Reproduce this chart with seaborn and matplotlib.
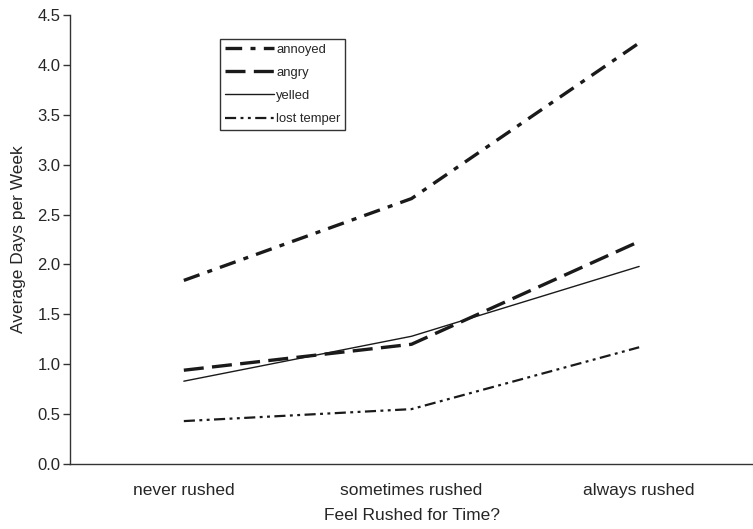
import matplotlib
matplotlib.use('Agg')
import matplotlib.pyplot as plt
import pandas as pd
import seaborn as sns

categories = ['never rushed', 'sometimes rushed', 'always rushed']
annoyed = [1.84, 2.66, 4.22]
angry = [0.94, 1.20, 2.23]
yelled = [0.83, 1.28, 1.98]
lost_temper = [0.43, 0.55, 1.17]
y_ticks = [0.0, 0.5, 1.0, 1.5, 2.0, 2.5, 3.0, 3.5, 4.0, 4.5]

sns.set_style('white')
plt.rcParams['font.family'] = ['Liberation Sans', 'DejaVu Sans']

data = pd.DataFrame({'pos': range(len(categories)), 'annoyed': annoyed, 'angry': angry,
                     'yelled': yelled, 'lost temper': lost_temper})

fig = plt.figure(figsize=(7.53, 5.29), dpi=100)
ax = fig.add_axes([70 / 753, 65 / 529, 683 / 753, 449 / 529])

styles = {
    'annoyed': dict(dashes=(5, 2.5, 1.5, 2.5), linewidth=2.4),
    'angry': dict(dashes=(6, 2.5), linewidth=2.4),
    'yelled': dict(linestyle='-', linewidth=1.0),
    'lost temper': dict(dashes=(5, 2, 1.3, 2, 1.3, 2), linewidth=1.6),
}
for name, st in styles.items():
    sns.lineplot(data=data, x='pos', y=name, ax=ax, color='#1a1a1a', label=name, **st)

ax.set_xlim(-0.5, 2.5)
ax.set_ylim(0, 4.5)
ax.set_yticks(y_ticks)
ax.set_yticklabels([f'{v:.1f}' for v in y_ticks], fontsize=12)
ax.set_xticks(range(len(categories)))
ax.set_xticklabels(categories, fontsize=12.5)
ax.set_xticks([-0.5, 0.5, 1.5], minor=True)
ax.tick_params(axis='x', which='major', length=0, pad=14)
ax.tick_params(axis='x', which='minor', length=5, width=1, color='#333333', direction='out')
ax.tick_params(axis='y', length=5, width=1, color='#333333', direction='out', left=True, pad=2)

for s in ['top', 'right']:
    ax.spines[s].set_visible(False)
for s in ['left', 'bottom']:
    ax.spines[s].set_color('#333333')
    ax.spines[s].set_linewidth(1.0)

ax.set_xlabel('Feel Rushed for Time?', fontsize=12.5, labelpad=7)
ax.set_ylabel('Average Days per Week', fontsize=12.5, labelpad=8)

leg = ax.legend(loc='upper left', bbox_to_anchor=(0.22, 0.947), fontsize=9.4, frameon=True,
                fancybox=False, edgecolor='black', handlelength=3.75, handletextpad=0.2,
                labelspacing=0.85, borderpad=0.35, borderaxespad=0)
leg.get_frame().set_linewidth(1.0)

fig.savefig('out.png', dpi=100)
